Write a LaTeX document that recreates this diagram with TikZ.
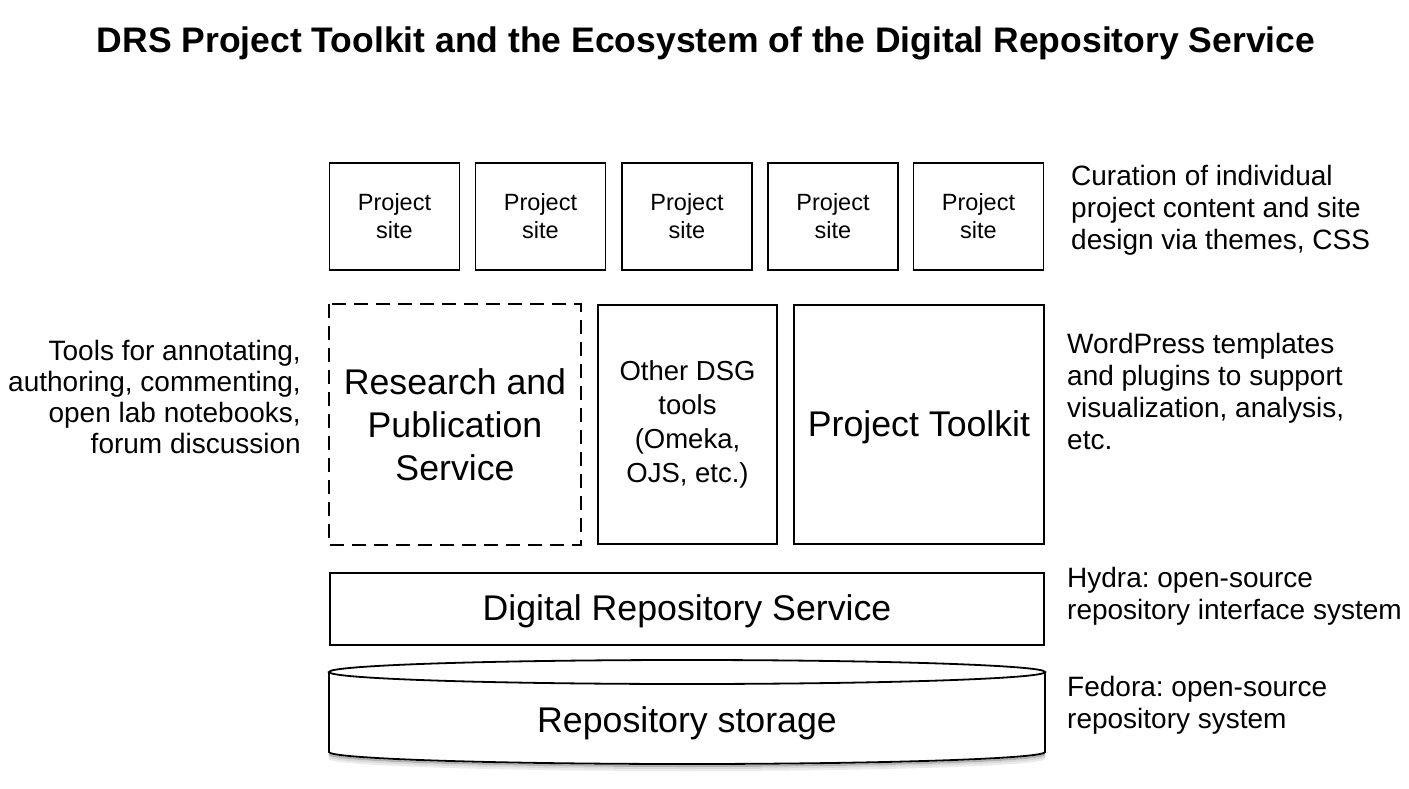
\documentclass[tikz,border=0pt]{standalone}
\usepackage{fontspec}
\setmainfont{Liberation Sans}
\frenchspacing
\begin{document}
\begin{tikzpicture}[x=1pt,y=-1pt,
  box/.style={draw=black,line width=1.8pt,fill=white,inner sep=0pt,align=center},
  sitebox/.style={box,minimum width=130pt,minimum height=107pt,font=\fontsize{23.5}{28}\selectfont},
  bigtxt/.style={font=\fontsize{35.7}{43}\selectfont},
  side/.style={inner sep=0pt,font=\fontsize{28}{32}\selectfont},
]
\useasboundingbox[fill=white] (0,0) rectangle (1409,789);
\node[font=\bfseries\fontsize{35.5}{40}\selectfont] (title) at (706,43) {DRS Project Toolkit and the Ecosystem of the Digital Repository Service};

\node[sitebox] (s1) at (394.5,216.5) {Project\\site};
\node[sitebox] (s2) at (540.5,216.5) {Project\\site};
\node[sitebox] (s3) at (687,216.5) {Project\\site};
\node[sitebox] (s4) at (833,216.5) {Project\\site};
\node[sitebox] (s5) at (978.5,216.5) {Project\\site};

\node[box,bigtxt,draw=none,minimum width=250pt,minimum height=239pt] (rps) at (455,424.5) {Research and\\Publication\\Service};
\draw[line width=1.8pt,dash pattern=on 14pt off 8pt] (rps.north west) rectangle (rps.south east);
\node[box,minimum width=179pt,minimum height=239pt,font=\fontsize{27.5}{34}\selectfont] (dsg) at (687.5,424.5) {Other DSG\\tools\\(Omeka,\\OJS, etc.)};
\node[box,bigtxt,minimum width=250pt,minimum height=239pt] (pt) at (919,424.5) {};
\node[bigtxt,inner sep=0pt] (ptl) at (919,427) {Project Toolkit};

\node[box,minimum width=714pt,minimum height=72pt] (drs) at (687,609) {};
\node[bigtxt,inner sep=0pt] (drsl) at (687,611) {Digital Repository Service};

% cylinder
\foreach \o/\c in {6/black!8,4/black!15,2/black!30}{
  \draw[\c,line width=2pt] (329,752+\o) arc[start angle=180,end angle=0,x radius=358,y radius=12];
}
\draw[line width=1.8pt,fill=white] (329,672) -- (329,752) arc[start angle=180,end angle=0,x radius=358,y radius=12] -- (1045,672);
\draw[line width=1.8pt,fill=white] (687,672) ellipse[x radius=358,y radius=12];
\node[bigtxt,inner sep=0pt] (rs) at (687,723) {Repository storage};

\node[side,anchor=west,align=left] (c1) at (1071,210) {Curation of individual\\project content and site\\design via themes, CSS};
\node[side,anchor=west,align=left] (c2) at (1067,391) {WordPress templates\\and plugins to support\\visualization, analysis,\\etc.};
\node[side,anchor=west,align=left] (c3) at (1067,596) {Hydra: open-source\\repository interface system};
\node[side,anchor=west,align=left] (c4) at (1067,705) {Fedora: open-source\\repository system};
\node[side,anchor=east,align=right,font=\fontsize{28}{31}\selectfont] (c5) at (301,397) {Tools for annotating,\\authoring, commenting,\\open lab notebooks,\\forum discussion};
\end{tikzpicture}
\end{document}
